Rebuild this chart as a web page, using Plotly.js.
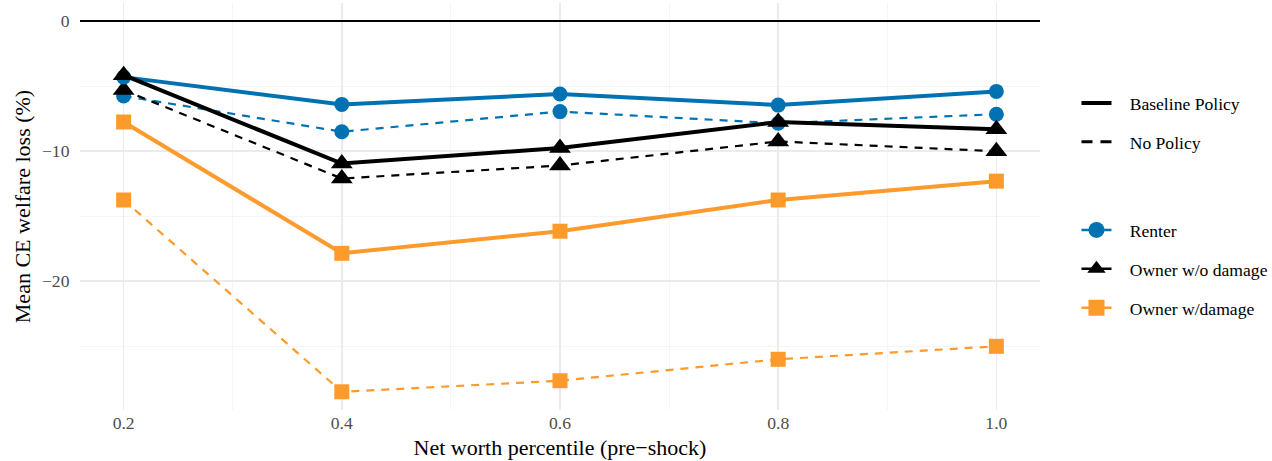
<!DOCTYPE html>
<html>
<head>
<meta charset="utf-8">
<script src="https://cdn.plot.ly/plotly-3.0.1.min.js"></script>
<style>html,body{margin:0;padding:0;background:#fff;}#chart{width:1272px;height:461px;}</style>
</head>
<body>
<div id="chart"></div>
<script>
// Data
const percentiles = [0.2, 0.4, 0.6, 0.8, 1.0];
const renterBaseline   = [-4.3, -6.4, -5.6, -6.45, -5.4];
const renterNoPolicy   = [-5.75, -8.5, -6.95, -7.85, -7.15];
const ownerNoDmgBaseline = [-4.15, -10.95, -9.75, -7.75, -8.3];
const ownerNoDmgNoPolicy = [-5.3, -12.1, -11.1, -9.25, -10.0];
const ownerDmgBaseline = [-7.75, -17.85, -16.15, -13.75, -12.3];
const ownerDmgNoPolicy = [-13.75, -28.5, -27.65, -26.0, -25.0];
const yTicks = [0, -10, -20];
const xTicks = [0.2, 0.4, 0.6, 0.8, 1.0];
const policyNames = ['Baseline Policy', 'No Policy'];
const groupNames = ['Renter', 'Owner w/o damage', 'Owner w/damage'];

const BLUE = '#0072B2', BLACK = '#000000', ORANGE = '#FD9A2C';
const FONT = 'Liberation Serif, Times New Roman, serif';
const dashPat = '8px,7px';
const PAD = '\u00a0\u00a0\u00a0';

function series(y, color, symbol, size, dashed) {
  return {
    x: percentiles, y: y, type: 'scatter', mode: 'lines+markers',
    line: {color: color, width: dashed ? 2.2 : 4, dash: dashed ? dashPat : 'solid'},
    marker: {color: color, symbol: symbol, size: size, line: {width: 0}},
    showlegend: false, hoverinfo: 'skip'
  };
}

const traces = [
  series(renterNoPolicy, BLUE, 'circle', 15, true),
  series(ownerNoDmgNoPolicy, BLACK, 'triangle-up', 19, true),
  series(ownerDmgNoPolicy, ORANGE, 'square', 15, true),
  series(renterBaseline, BLUE, 'circle', 15, false),
  series(ownerNoDmgBaseline, BLACK, 'triangle-up', 19, false),
  series(ownerDmgBaseline, ORANGE, 'square', 15, false),
  // legend 1: policy linetype
  {x:[null], y:[null], type:'scatter', mode:'lines', name:PAD + policyNames[0],
   line:{color:BLACK, width:4}, legend:'legend', legendgroup:'a'},
  {x:[null], y:[null], type:'scatter', mode:'lines', name:PAD + policyNames[1],
   line:{color:BLACK, width:3, dash:'11px,8px'}, legend:'legend', legendgroup:'b'},
  // legend 2: group shapes
  {x:[null], y:[null], type:'scatter', mode:'lines+markers', name:PAD + groupNames[0],
   line:{color:BLUE, width:2.5}, marker:{color:BLUE, symbol:'circle', size:16}, legend:'legend2', legendgroup:'c'},
  {x:[null], y:[null], type:'scatter', mode:'lines+markers', name:PAD + groupNames[1],
   line:{color:BLACK, width:2.5}, marker:{color:BLACK, symbol:'triangle-up', size:20}, legend:'legend2', legendgroup:'d'},
  {x:[null], y:[null], type:'scatter', mode:'lines+markers', name:PAD + groupNames[2],
   line:{color:ORANGE, width:2.5}, marker:{color:ORANGE, symbol:'square', size:16}, legend:'legend2', legendgroup:'e'}
];

const legendCommon = {
  xref:'paper', yref:'paper', xanchor:'left', yanchor:'top',
  font:{family:FONT, size:17.6, color:'#000'}, bgcolor:'rgba(0,0,0,0)',
  traceorder:'grouped', tracegroupgap:13, itemwidth:30
};

const layout = {
  width:1272, height:461,
  margin:{l:80, r:232, t:3, b:51, autoexpand:false},
  paper_bgcolor:'#fff', plot_bgcolor:'#fff',
  font:{family:FONT, color:'#000'},
  xaxis:{
    range:[0.16, 1.04], tickvals:xTicks, ticktext:xTicks.map(v=>v.toFixed(1)),
    showgrid:true, gridcolor:'#EBEBEB', gridwidth:1.6,
    minor:{dtick:0.1, tick0:0, showgrid:true, gridcolor:'#F2F2F2', gridwidth:0.8},
    zeroline:false, showline:false,
    ticks:'',
    tickfont:{family:FONT, size:17.6, color:'#4D4D4D'},
    title:{text:'Net worth percentile (pre\u2212shock)', font:{family:FONT, size:22, color:'#000'}, standoff:8}
  },
  yaxis:{
    range:[-29.9, 1.4], tickvals:yTicks,
    showgrid:true, gridcolor:'#EBEBEB', gridwidth:1.6,
    minor:{dtick:5, tick0:0, showgrid:true, gridcolor:'#F2F2F2', gridwidth:0.8},
    zeroline:true, zerolinecolor:'#000', zerolinewidth:2,
    showline:false,
    ticks:'outside', ticklen:6, tickcolor:'rgba(0,0,0,0)',
    tickfont:{family:FONT, size:17.6, color:'#4D4D4D'},
    title:{text:'Mean CE welfare loss (%)', font:{family:FONT, size:22, color:'#000'}, standoff:5}
  },
  legend:Object.assign({x:1.038, y:0.7985}, legendCommon),
  legend2:Object.assign({x:1.038, y:0.4865}, legendCommon),
  showlegend:true
};

Plotly.newPlot('chart', traces, layout, {staticPlot:true, displayModeBar:false});
</script>
</body>
</html>
